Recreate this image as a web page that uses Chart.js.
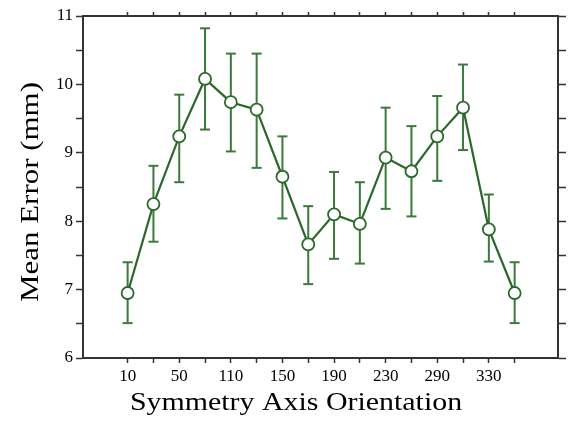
<!DOCTYPE html>
<html>
<head>
<meta charset="utf-8">
<script src="https://cdn.jsdelivr.net/npm/chart.js@4"></script>
<style>
 html,body{margin:0;padding:0;background:#fff;}
 canvas{display:block;}
</style>
</head>
<body>
<canvas id="chart" width="569" height="422"></canvas>
<script>
// orientation categories (only every other one is labelled)
const categories=["10","30","50","70","110","130","150","170","190","210","230","250","290","310","330","350"];
const meanErr=[6.95,8.25,9.24,10.08,9.74,9.63,8.65,7.66,8.10,7.96,8.93,8.73,9.24,9.66,7.88,6.95];
const errUpper=[7.40,8.81,9.85,10.82,10.45,10.45,9.24,8.22,8.72,8.57,9.66,9.39,9.83,10.29,8.39,7.40];
const errLower=[6.51,7.70,8.57,9.34,9.02,8.78,8.04,7.08,7.45,7.38,8.18,8.07,8.59,9.04,7.41,6.51];
const yTicks=[6,7,8,9,10,11];

const green="#2b682b", barGreen="#3a7a3a", axisCol="#333";
const serif="'Liberation Serif','Times New Roman',serif";

const linePts=meanErr.map((v,i)=>({x:i,y:v}));
const errPts=[];
meanErr.forEach((v,i)=>{
  errPts.push({x:i,y:errLower[i]},{x:i,y:errUpper[i]},{x:i+0.5,y:null});
});

const keepCats=scale=>{ scale.ticks=scale.ticks.filter(t=>Number.isInteger(t.value)&&t.value>=0&&t.value<categories.length); };
const gridOpt={drawOnChartArea:false,tickLength:5,tickWidth:1.5,tickColor:axisCol};
const borderOpt={display:true,color:axisCol,width:2};
const xMin=-1.73, xMax=categories.length-1+1.68;

const titles={
 id:"titles",
 afterDraw(chart){
  const c=chart.ctx;
  c.save();
  c.fillStyle="#000";
  c.font="26px "+serif;
  c.textAlign="center";
  c.textBaseline="alphabetic";
  c.save();
  c.translate(296,410);
  c.scale(1.15,1);
  c.fillText("Symmetry Axis Orientation",0,0);
  c.restore();
  c.save();
  c.translate(38,192);
  c.rotate(-Math.PI/2);
  c.scale(1.19,1);
  c.fillText("Mean Error (mm)",0,0);
  c.restore();
  c.restore();
 }
};

new Chart(document.getElementById("chart"),{
 type:"line",
 data:{datasets:[
  {data:linePts,borderColor:green,borderWidth:2.2,tension:0,
   pointRadius:6,pointHoverRadius:6,pointBackgroundColor:"#fff",pointBorderColor:green,pointBorderWidth:1.8},
  {data:errPts,borderColor:barGreen,borderWidth:2,spanGaps:false,borderCapStyle:"butt",
   pointStyle:"line",pointRadius:5,pointHoverRadius:5,pointBorderColor:barGreen,pointBorderWidth:2}
 ]},
 options:{
  responsive:false,animation:false,devicePixelRatio:1,
  layout:{padding:0},
  plugins:{legend:{display:false},tooltip:{enabled:false}},
  scales:{
   x:{type:"linear",position:"bottom",min:xMin,max:xMax,
      afterBuildTicks:keepCats,
      afterFit(s){s.height=64;},
      ticks:{stepSize:1,autoSkip:false,maxRotation:0,padding:3,color:"#000",font:{family:serif,size:17},
             callback:v=>(Number.isInteger(v)&&v%2===0&&categories[v])?categories[v]:""},
      grid:gridOpt,border:borderOpt},
   x2:{type:"linear",position:"top",min:xMin,max:xMax,
      afterBuildTicks:keepCats,
      afterFit(s){s.height=16;},
      ticks:{stepSize:1,autoSkip:false,display:false},
      grid:{...gridOpt,tickLength:4},border:borderOpt},
   y:{type:"linear",position:"left",min:6,max:11,
      afterFit(s){s.width=83;},
      ticks:{stepSize:0.5,padding:3,color:"#000",font:{family:serif,size:17},
             callback:v=>yTicks.includes(v)?String(v):""},
      grid:{...gridOpt,tickLength:7},border:borderOpt},
   y2:{type:"linear",position:"right",min:6,max:11,
      afterFit(s){s.width=11;},
      ticks:{stepSize:0.5,display:false},
      grid:{...gridOpt,tickLength:8},border:borderOpt}
  }
 },
 plugins:[titles]
});
</script>
</body>
</html>
